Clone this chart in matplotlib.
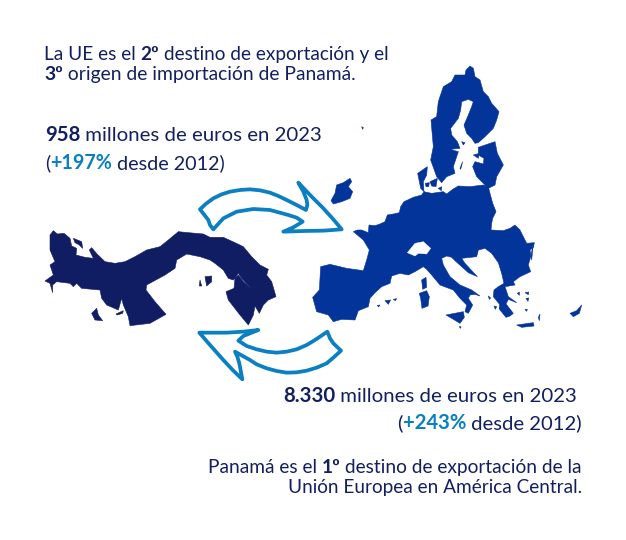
import matplotlib
matplotlib.use("Agg")
import matplotlib.pyplot as plt
from matplotlib.patches import Polygon

NAVY = "#13205f"
BLUE = "#0a7fc2"
EU = "#03349a"
PAN = "#111d63"
FONT = "Lato"

# Outlines, in crop units (3 per pixel)
WEST_NORTH = [(160,515),(172,510),(185,510),(205,518),(207,495),(225,497),(240,492),(255,485),(262,465),(280,462),(298,458),(302,440),(312,425),(340,412),(365,405),(372,395),(395,400),(430,395),(440,402),(458,388),(475,378),(510,380),(550,375),(565,380),(570,400),(578,430),(588,455),(578,475),(575,490),(573,510),(610,512),(630,505),(645,495),(660,510),(670,530),(680,550),(703,548),(700,562),(690,570),(695,600)]
BALKAN_ITALY = [(400,40),(392,80),(385,105),(392,125),(360,140),(340,155),(345,165),(315,170),(325,200),(350,218),(325,208),(318,222),(340,250),(330,258),(318,262),(300,240),(298,222),(280,200),(282,180),(295,170),(312,160),(305,130),(295,98),(275,70),(255,55),(235,60),(230,80),(185,85),(195,100),(232,140),(205,128),(165,92),(155,82),(140,78),(125,85),(130,105),(150,140),(180,165),(215,180),(240,198),(225,193),(210,195),(205,205),(218,225),(205,250),(195,245),(200,225),(180,205),(160,180),(120,165),(95,135),(80,118),(70,110),(45,125),(25,135),(0,130)]
IBERIA = [(275,648),(270,670),(245,680),(225,698),(210,715),(205,740),(175,752),(165,780),(125,778),(100,785),(85,765),(50,755),(38,712),(58,690),(62,620),(90,613),(140,625),(190,632),(200,600),(208,570),(190,540)]
NORDIC = [(150,18),(160,25),(165,50),(180,60),(190,95),(205,110),(215,130),(237,155),(230,180),(220,205),(195,230),(175,248),(165,250),(155,235),(140,220),(132,195),(145,165),(155,140),(160,125),(145,118),(125,125),(122,150),(115,175),(92,205),(95,225),(112,245),(120,265),(90,268),(115,275),(100,320),(105,340),(80,350),(65,368),(50,350),(32,300),(40,260),(33,180),(50,170),(55,125),(70,80),(95,65),(105,45),(135,45),(138,30)]
BALTIC = [(175,262),(225,245),(232,280),(250,315),(230,350),(225,375),(205,385),(170,350),(158,320),(165,305),(190,312),(192,295),(175,285)]
NORTH_SMALL = [[(120,325),(128,305),(122,328)],[(160,285),(178,280),(175,295)],[(125,245),(135,248),(130,255)]]
WEST_SMALL = [
    [(353,340),(382,320),(380,345),(370,365),(372,395),(362,385)],
    [(390,365),(412,355),(408,380),(395,378)],
    [(376,370),(388,368),(386,380),(378,380)],
    [(415,385),(425,380),(424,392)],
    [(93,422),(105,400),(110,375),(130,368),(150,355),(155,365),(145,380),(158,395),(150,415),(125,425),(100,432)],
    [(255,722),(272,720),(265,733)],
    [(232,736),(240,735),(236,741)],
    [(280,718),(290,716),(286,722)],
    [(810,760),(830,752),(845,735),(838,760),(820,770)],
    [(185,200),(190,203),(188,208)],
]
SOUTH_SMALL = [
    [(65,150),(78,142),(80,172),(68,178)],
    [(58,190),(80,182),(88,200),(84,228),(66,235),(62,205)],
    [(138,255),(190,245),(193,262),(180,280),(155,265)],
    [(350,285),(400,278),(402,288),(365,292)],
    [(375,188),(386,186),(385,194)],
    [(378,205),(386,204),(384,214)],
    [(375,238),(382,238),(380,244)],
    [(352,190),(358,186),(358,196)],
    [(265,198),(272,204),(268,208)],
    [(282,228),(290,230),(286,238)],
    [(298,232),(304,234),(300,240)],
    [(178,290),(183,290),(181,295)],
    [(415,262),(420,252),(418,272)],
]
SWISS = [(22,68),(45,40),(70,35),(92,55),(80,72),(55,70),(45,78)]

PAN_WEST_TOP = [(30,45),(40,32),(52,42),(72,40),(90,55),(95,78),(110,85),(108,105),(135,112),(160,115),(148,90),(155,83),(172,103),(195,125),(225,130),(255,125),(285,110),(320,90),(360,80)]
PAN_MID_TOP = [(385,180),(415,155),(445,158),(490,162)]
PAN_EAST = [(0,52),(40,52),(75,68),(100,80),(125,110),(150,135),(175,148),(170,165),(185,185),(198,230),(175,240),(160,255),(148,280),(135,258),(130,285),(115,315),(90,285),(55,240),(48,215),(72,205),(75,175),(85,165),(100,185),(122,205),(95,175),(85,160),(70,180),(55,175),(40,150),(15,130),(0,120)]
PAN_MID_BOTTOM = [(480,230),(440,222),(410,240),(405,265),(375,285),(320,315),(318,330),(345,365),(378,403),(330,430)]
PAN_WEST_BOTTOM = [(270,317),(265,290),(250,255),(245,235),(235,270),(200,255),(185,235),(180,210),(125,205),(110,190),(100,200),(90,190),(50,185),(38,195),(38,218),(30,190),(15,183),(40,165),(30,135),(45,125),(30,90)]
PAN_SMALL = [
    [(155,400),(170,385),(175,405),(188,422),(165,420)],
    [(495,290),(515,288),(515,305),(500,318)],
    [(480,300),(485,318),(478,318)],
    [(100,175),(125,185),(128,205),(118,195),(105,188)],
    [(228,402),(250,392),(248,400),(232,405)],
]
ARROW_UP = [(480,88),(497,72),(520,55),(545,43),(570,35),(600,30),(630,28),(660,31),(690,38),(715,48),(740,60),(770,75),(798,90),(802,75),(800,60),(790,35),(775,8),(815,50),(850,85),(880,118),(905,148),(850,152),(790,153),(730,155),(760,142),(788,125),(770,113),(745,105),(690,90),(640,87),(590,95),(550,115),(520,148),(510,135),(505,120)]
ARROW_DN = [(478,458),(520,458),(560,458),(610,455),(655,450),(630,460),(610,468),(595,482),(620,498),(650,508),(680,515),(710,518),(740,515),(770,508),(800,495),(820,483),(840,470),(862,455),(870,475),(880,490),(903,512),(880,533),(860,550),(830,563),(800,572),(770,577),(740,578),(710,573),(680,565),(650,553),(630,540),(585,515),(592,530),(598,550),(607,598),(578,570),(550,540),(510,495)]

L1 = [("La UE es el ", "normal", NAVY), ("2º", "bold", NAVY), (" destino de exportación y el", "normal", NAVY)]
L2 = [("3º", "bold", NAVY), (" origen de importación de Panamá.", "normal", NAVY)]
L3 = [("958", "bold", NAVY), (" millones de euros en 2023", "normal", NAVY)]
L4 = [("(", "normal", NAVY), ("+197%", "bold", BLUE), (" desde 2012)", "normal", NAVY)]
L5 = [("8.330", "bold", NAVY), (" millones de euros en 2023", "normal", NAVY)]
L6 = [("(", "normal", NAVY), ("+243%", "bold", BLUE), (" desde 2012)", "normal", NAVY)]
L7 = [("Panamá es el ", "normal", NAVY), ("1º", "bold", NAVY), (" destino de exportación de la", "normal", NAVY)]
L8 = [("Unión Europea en América Central.", "normal", NAVY)]
LINES = [(L1,44,60,346,"l"),(L2,44,80,313,"l"),(L3,45,141,277,"l"),(L4,45,169,180,"l"),
         (L5,577,402,295,"r"),(L6,582,429,185,"r"),(L7,582,473,377,"r"),(L8,582,493,295,"r")]

fig = plt.figure(figsize=(6.26, 5.40), dpi=100)
ax = fig.add_axes([0, 0, 1, 1])
ax.set_xlim(0, 626); ax.set_ylim(540, 0); ax.axis("off")

def conv(p, ox, oy):
    return [(ox + x/3, oy + y/3) for x, y in p]

def shape(pts, col, lw=0.4):
    ax.add_patch(Polygon(pts, closed=True, fc=col, ec=col, lw=lw, joinstyle="round"))

eu_main = conv(WEST_NORTH, 300, 60) + conv(BALKAN_ITALY, 400, 230) + conv(IBERIA, 300, 60)
shape(eu_main, EU)
shape(conv(NORDIC, 420, 60), EU)
shape(conv(BALTIC, 420, 60), EU)
for p in NORTH_SMALL:
    shape(conv(p, 420, 60), EU)
for p in WEST_SMALL:
    shape(conv(p, 300, 60), EU)
for p in SOUTH_SMALL:
    shape(conv(p, 400, 230), EU)
shape(conv(SWISS, 400, 230), "white", 0.3)

panama = (conv(PAN_WEST_TOP, 40, 220) + conv(PAN_MID_TOP, 40, 180) + conv(PAN_EAST, 210, 220)
          + conv(PAN_MID_BOTTOM, 40, 180) + conv(PAN_WEST_BOTTOM, 40, 220))
shape(panama, PAN)
for p in PAN_SMALL:
    shape(conv(p, 40, 180), PAN)

for p in [ARROW_UP, ARROW_DN]:
    ax.add_patch(Polygon(conv(p, 40, 180), closed=True, fc="white", ec=BLUE, lw=2.7, joinstyle="round"))

fig.canvas.draw()
rend = fig.canvas.get_renderer()
def run_width(runs, size):
    w = 0
    for s, wt, c in runs:
        t = ax.text(0, 0, s.replace(" ", "\u00a0"), fontsize=size, fontweight=wt, family=FONT)
        w += t.get_window_extent(rend).width
        t.remove()
    return w

for runs, x, y, target, side in LINES:
    size = 14 * target / run_width(runs, 14)
    total = run_width(runs, size)
    cur = x if side == "l" else x - total
    for s, wt, c in runs:
        t = ax.text(cur, y, s.replace(" ", "\u00a0"), fontsize=size, fontweight=wt, color=c,
                    family=FONT, ha="left", va="baseline")
        cur += t.get_window_extent(rend).width

fig.savefig("out.png", dpi=100, facecolor="white")
